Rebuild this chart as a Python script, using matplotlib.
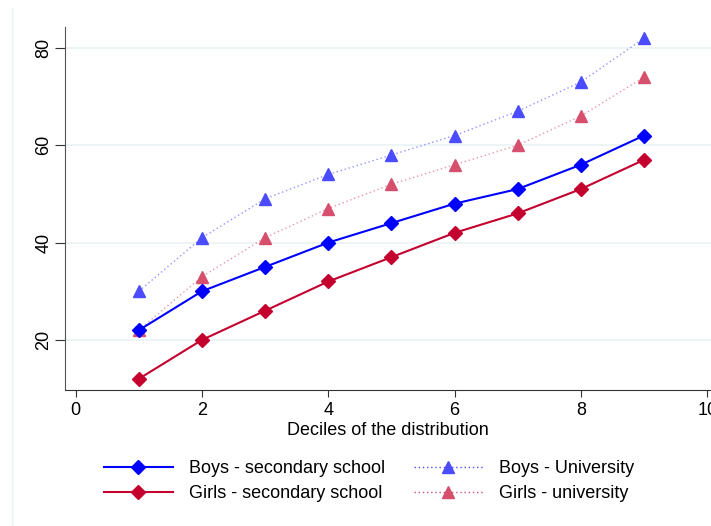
import matplotlib
matplotlib.use("Agg")
import matplotlib.pyplot as plt
from matplotlib.lines import Line2D

plt.rcParams['font.family'] = ['Liberation Sans', 'DejaVu Sans']

deciles = [1, 2, 3, 4, 5, 6, 7, 8, 9]
boys_secondary = [22, 30, 35, 40, 44, 48, 51, 56, 62]
girls_secondary = [12, 20, 26, 32, 37, 42, 46, 51, 57]
boys_university = [30, 41, 49, 54, 58, 62, 67, 73, 82]
girls_university = [22, 33, 41, 47, 52, 56, 60, 66, 74]

x_ticks = [0, 2, 4, 6, 8, 10]
y_ticks = [20, 40, 60, 80]

fig = plt.figure(figsize=(7.11, 5.26), dpi=100)
ax = fig.add_axes([65/711, 1-390/526, 1-65/711, (390-27)/526])

grid_c = '#EAF2F3'
for yv in y_ticks:
    ax.axhline(yv, color=grid_c, lw=1.2, zorder=0)

c_bs = '#0000FF'
c_gs = '#C4002F'
c_bu = '#4B4BFF'
c_gu = '#D6506E'

ax.plot(deciles, boys_university, color=c_bu, ls=(0, (1, 2)), lw=1.0, alpha=0.6, zorder=2)
ax.plot(deciles, boys_university, ls='none', marker='^', ms=9, color=c_bu, zorder=3)
ax.plot(deciles, girls_university, color=c_gu, ls=(0, (1, 2)), lw=1.0, alpha=0.6, zorder=2)
ax.plot(deciles, girls_university, ls='none', marker='^', ms=9, color=c_gu, zorder=3)
ax.plot(deciles, boys_secondary, color=c_bs, lw=1.5, marker='D', ms=7.5, zorder=4)
ax.plot(deciles, girls_secondary, color=c_gs, lw=1.5, marker='D', ms=7.5, zorder=4)

ax.set_xlim(-0.17, 10.06)
ax.set_ylim(9.7, 84.3)
ax.set_xticks(x_ticks)
ax.set_yticks(y_ticks)
ax.tick_params(axis='y', length=7, pad=2, labelsize=13, rotation=90, color='#333333')
ax.tick_params(axis='x', length=5, labelsize=13, color='#333333')
for lab in ax.get_yticklabels():
    lab.set_va('center')
ax.spines['top'].set_visible(False)
ax.spines['right'].set_visible(False)
ax.spines['left'].set_color('#555555')
ax.spines['bottom'].set_color('#333333')
ax.set_xlabel('Deciles of the distribution', fontsize=13, labelpad=2)

handles = [
    Line2D([], [], color=c_bs, lw=1.5, marker='D', ms=7.5),
    Line2D([], [], color=c_gs, lw=1.5, marker='D', ms=7.5),
    Line2D([], [], color=c_bu, ls=(0, (1, 2)), lw=1.0, marker='^', ms=9, markeredgecolor=c_bu, markerfacecolor=c_bu),
    Line2D([], [], color=c_gu, ls=(0, (1, 2)), lw=1.0, marker='^', ms=9, markeredgecolor=c_gu, markerfacecolor=c_gu),
]
labels = ['Boys - secondary school', 'Girls - secondary school', 'Boys - University', 'Girls - university']
fig.legend(handles, labels, loc='center', bbox_to_anchor=(369/711, 1-481/526), ncol=2,
           frameon=False, fontsize=13, handlelength=3.8, columnspacing=1.6,
           labelspacing=0.45, handletextpad=0.9)

fig.add_artist(Line2D([12/711, 12/711], [0, 1-8/526], color='#EAF2F3', lw=1, transform=fig.transFigure))

fig.savefig('out.png', dpi=100)
